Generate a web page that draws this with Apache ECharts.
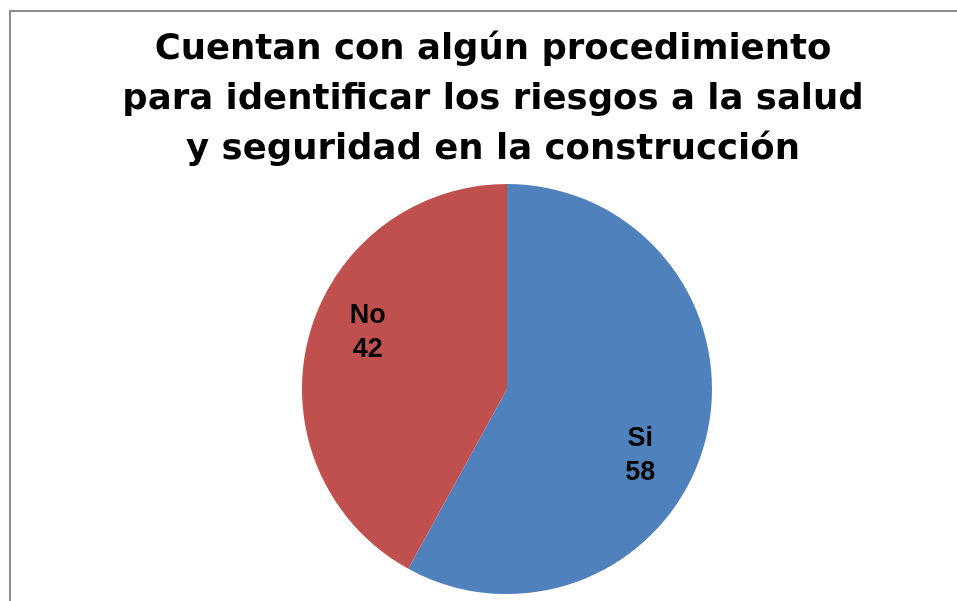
<!DOCTYPE html>
<html>
<head>
<meta charset="utf-8">
<script src="https://cdn.jsdelivr.net/npm/echarts@6/dist/echarts.min.js"></script>
<style>
  html, body { margin: 0; padding: 0; background: #fff; }
  #chart { width: 957px; height: 601px; }
</style>
</head>
<body>
<div id="chart"></div>
<script>
// datos del grafico
var titulo = 'Cuentan con algún procedimiento\npara identificar los riesgos a la salud\ny seguridad en la construcción';
var categorias = ['Si', 'No'];
var valores = [58, 42];
var colores = ['#4F81BD', '#C0504D'];
// desplazamiento de etiquetas (estilo)
var desplaz = [[31, 40], [-37, -30]];

var myChart = echarts.init(document.getElementById('chart'));

var datos = [];
for (var i = 0; i < categorias.length; i++) {
    datos.push({
        name: categorias[i],
        value: valores[i],
        itemStyle: { color: colores[i] },
        label: { offset: desplaz[i] }
    });
}

var option = {
    animation: false,
    title: {
        text: titulo,
        left: 488,
        top: 20,
        textAlign: 'center',
        textStyle: {
            fontFamily: 'DejaVu Sans, sans-serif',
            fontSize: 35.5,
            fontWeight: 'bold',
            lineHeight: 50,
            color: '#000'
        }
    },
    graphic: [{
        type: 'rect',
        shape: { x: 10, y: 11, width: 1200, height: 1000 },
        style: { fill: 'none', stroke: '#8e8e8e', lineWidth: 2 },
        silent: true
    }],
    series: [{
        type: 'pie',
        center: [507, 389],
        radius: [0, 205],
        startAngle: 90,
        clockwise: true,
        itemStyle: { borderWidth: 0 },
        label: {
            show: true,
            position: 'inside',
            formatter: '{b}\n{c}',
            fontFamily: 'Liberation Sans, Arial, sans-serif',
            fontSize: 27,
            fontWeight: 'bold',
            lineHeight: 34,
            color: '#000'
        },
        labelLine: { show: false },
        emphasis: { disabled: true },
        data: datos
    }]
};
myChart.setOption(option);
</script>
</body>
</html>
